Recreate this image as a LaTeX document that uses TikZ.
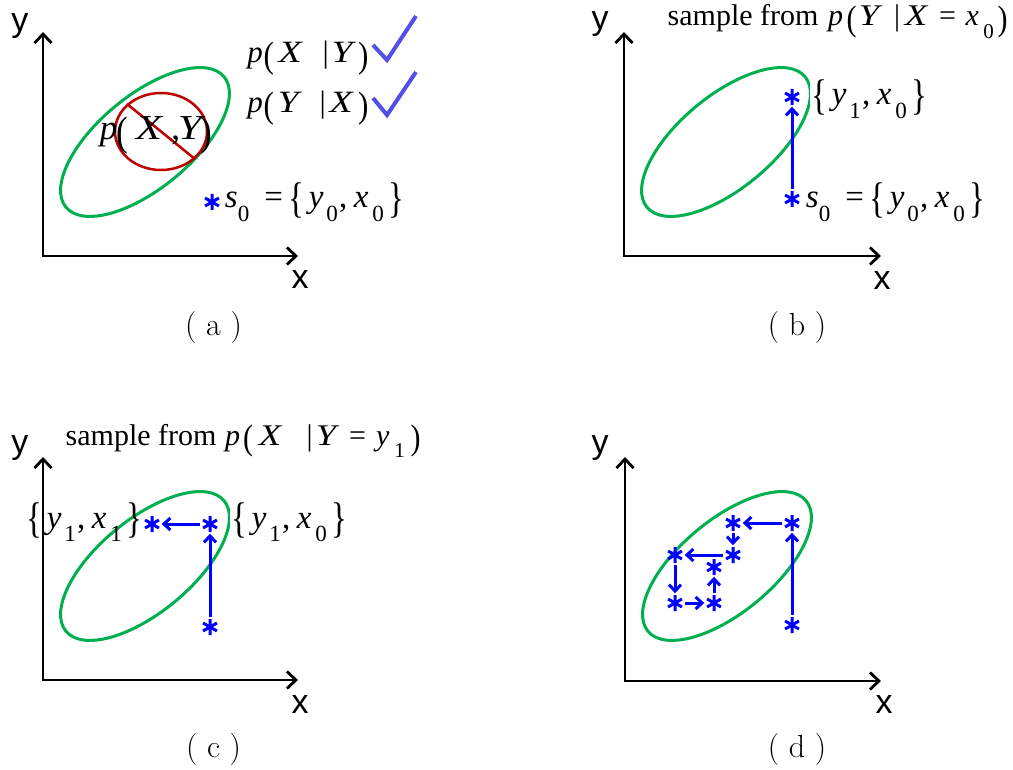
\documentclass[tikz,border=0pt]{standalone}
\usepackage{fontspec}
\usepackage{graphicx}
\newfontfamily\tnr{Liberation Serif}
\newfontfamily\arl{Liberation Sans}
\usetikzlibrary{arrows.meta,shapes.geometric}
\definecolor{egreen}{RGB}{0,176,80}
\definecolor{dred}{RGB}{192,0,0}
\definecolor{chkblue}{RGB}{80,80,230}
\newcommand\gat[2]{\makebox[0pt][l]{\hspace{#1pt}\makebox[0pt]{#2}}}
\newcommand\mi[1]{\textit{#1}}
\newcommand\MI[1]{\scalebox{1.22}[1]{\textit{#1}}}
\newcommand\sbs[1]{\raisebox{-0.42em}{\scalebox{0.7}{#1}}}
\newcommand\lbr{\raisebox{-0.15em}{\scalebox{1}[1.3]{\{}}}
\newcommand\rbr{\raisebox{-0.15em}{\scalebox{1}[1.3]{\}}}}
\newcommand\lpr{\raisebox{-0.15em}{\scalebox{1}[1.18]{(}}}
\newcommand\rpr{\raisebox{-0.15em}{\scalebox{1}[1.18]{)}}}
\newcommand\yx[2]{\gat{6}{\lbr}\gat{26}{\mi{y}}\gat{42}{\sbs{#1}}\gat{53}{,}\gat{71}{\mi{x}}\gat{88}{\sbs{#2}}\gat{106}{\rbr}\hspace{112pt}}
\newcommand\szero{\gat{6}{\mi{s}}\gat{18.5}{\sbs{0}}\gat{48.5}{=}\hspace{65pt}\yx{0}{0}}
\tikzset{
  axisln/.style={line width=2.8pt, {Straight Barb[length=9pt,width=17pt]}-{Straight Barb[length=9pt,width=17pt]}},
  bl/.style={blue, line width=3pt, -{Straight Barb[length=6.5pt,width=12pt]}},
  ell/.style={ellipse, draw=egreen, line width=3pt, minimum width=205pt, minimum height=93pt, inner sep=0pt, rotate=39.5},
  ast/.style={circle, minimum size=19pt, inner sep=0pt, path picture={\draw[blue, line width=3pt] (path picture bounding box.center) +(90:8pt) -- +(-90:8pt) +(30:8pt) -- +(210:8pt) +(150:8pt) -- +(-30:8pt);}},
  ax/.style={font=\arl\fontsize{34}{36}\selectfont, anchor=base, inner sep=0pt},
  capt/.style={font=\fontsize{32}{34}\selectfont, anchor=base, inner sep=0pt},
  mth/.style={font=\tnr\fontsize{33}{35}\selectfont, anchor=base west, inner sep=0pt},
  smp/.style={font=\tnr\fontsize{30}{32}\selectfont, anchor=base west, inner sep=0pt},
  cond/.style={font=\tnr\fontsize{31}{33}\selectfont, anchor=base west, inner sep=0pt},
  cover/.style={fill=white, inner xsep=3pt, inner ysep=4pt},
  chk/.style={chkblue, line width=4pt},
}
\begin{document}
\begin{tikzpicture}[x=1pt,y=-1pt]
\useasboundingbox (0,0) rectangle (1013,770);
\fill[white] (0,0) rectangle (1013,770);

% ---------- panel (a)
\node[ell] (ela) at (145,142) {};
\node[ellipse, draw=dred, line width=2.5pt, minimum width=92pt, minimum height=77pt, inner sep=0pt] (rca) at (161,131.5) {};
\draw[dred, line width=2.5pt] (rca.141) -- (rca.-39);
\coordinate (ya) at (43,32); \coordinate (oa) at (43,256); \coordinate (xa) at (298,256);
\draw[axisln] (ya) -- (oa) -- (xa);
\node[ax] (lya) at (20,32) {y};
\node[ax] (lxa) at (300,289) {x};
\node[cond] (pxgy) at (247,63) {\gat{7.5}{\mi{p}}\gat{21}{\lpr}\gat{43}{\MI{X}}\gat{78}{|}\gat{96}{\MI{Y}}\gat{115.5}{\rpr}\hspace{120pt}};
\node[cond] (pygx) at (247,113) {\gat{7.5}{\mi{p}}\gat{21}{\lpr}\gat{42}{\MI{Y}}\gat{75}{|}\gat{94}{\MI{X}}\gat{115.5}{\rpr}\hspace{120pt}};
\draw[chk] (373,45) -- (387,60) -- (416,16);
\draw[chk] (373,98) -- (387,115) -- (416,72);
\node[font=\tnr\fontsize{35}{37}\selectfont, anchor=base west, inner sep=0pt] (pjoint) at (100,140) {\gat{8}{\mi{p}}\gat{22}{\lpr}\gat{49}{\MI{X}}\gat{75}{,}\gat{91}{\MI{Y}}\gat{106}{\rpr}\hspace{110pt}};
\node[ast] (a0) at (212,202) {};
\node[mth] (s0a) at (225,208) {\szero};
\node[capt] (capa) at (213.5,335) {( a )};

% ---------- panel (b)
\node[ell] (elb) at (726,142) {};
\coordinate (yb) at (624,32); \coordinate (ob) at (624,256); \coordinate (xb) at (881,256);
\draw[axisln] (yb) -- (ob) -- (xb);
\node[ax] (lyb) at (600,30) {y};
\node[ax] (lxb) at (882,290) {x};
\node[smp] (smpb) at (667,26) {\makebox[0pt][l]{sample from}\gat{168}{\mi{p}}\gat{184}{\lpr}\gat{203}{\MI{Y}}\gat{229.5}{|}\gat{249}{\MI{X}}\gat{280}{=}\gat{304.5}{\mi{x}}\gat{321}{\sbs{0}}\gat{335}{\rpr}\hspace{340pt}};
\node[mth, cover] (y1x0b) at (810,105) {\yx{1}{0}};
\node[mth] (s0b) at (806,208) {\szero};
\node[ast] (b0) at (792,199) {};
\node[ast] (b1) at (792,97) {};
\draw[bl] (b0) -- (b1);
\node[capt] (capb) at (797,335) {( b )};

% ---------- panel (c)
\node[ell] (elc) at (145,566) {};
\coordinate (yc) at (43,457); \coordinate (oc) at (43,680); \coordinate (xc) at (298,680);
\draw[axisln] (yc) -- (oc) -- (xc);
\node[ax] (lyc) at (20,453) {y};
\node[ax] (lxc) at (300,713) {x};
\node[smp] (smpc) at (65,445) {\makebox[0pt][l]{sample from}\gat{167}{\mi{p}}\gat{182.5}{\lpr}\gat{205}{\MI{X}}\gat{244}{|}\gat{262}{\MI{Y}}\gat{292}{=}\gat{317}{\mi{y}}\gat{334}{\sbs{1}}\gat{350}{\rpr}\hspace{355pt}};
\node[mth, fill=white, inner xsep=3pt, inner ysep=8pt] (y1x1c) at (25,528) {\yx{1}{1}};
\node[mth, cover] (y1x0c) at (230,528) {\yx{1}{0}};
\node[ast] (c0) at (210,627) {};
\node[ast] (c1) at (210,524) {};
\node[ast] (c2) at (152,524) {};
\draw[bl] (c0) -- (c1);
\draw[bl] (c1) -- (c2);
\node[capt] (capc) at (213.5,757) {( c )};

% ---------- panel (d)
\node[ell] (eld) at (727,566) {};
\coordinate (yd) at (625,457); \coordinate (od) at (625,681); \coordinate (xd) at (881,681);
\draw[axisln] (yd) -- (od) -- (xd);
\node[ax] (lyd) at (600,453) {y};
\node[ax] (lxd) at (884,713) {x};
\node[ast] (d0) at (792,625) {};
\node[ast] (d1) at (792,523) {};
\node[ast] (d2) at (733,523) {};
\node[ast] (d3) at (733,555) {};
\node[ast] (d4) at (675,555) {};
\node[ast] (d5) at (675,603) {};
\node[ast] (d6) at (714,603) {};
\node[ast] (d7) at (714,567) {};
\draw[bl] (d0) -- (d1);
\draw[bl] (d1) -- (d2);
\draw[bl] (d2) -- (d3);
\draw[bl] (d3) -- (d4);
\draw[bl] (d4) -- (d5);
\draw[bl] (d5) -- (d6);
\draw[bl] (d6) -- (d7);
\node[capt] (capd) at (797,757) {( d )};
\end{tikzpicture}
\end{document}
